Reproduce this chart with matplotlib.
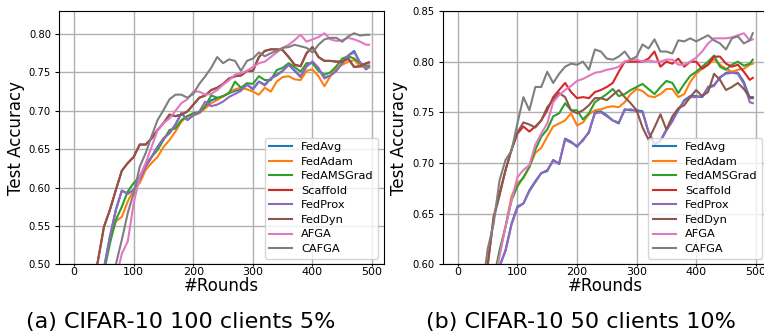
import matplotlib
matplotlib.use("Agg")
import matplotlib.pyplot as plt

rounds = list(range(0, 491, 10)) + [495]
labels = ["FedAvg", "FedAdam", "FedAMSGrad", "Scaffold", "FedProx", "FedDyn", "AFGA", "CAFGA"]

# (a) CIFAR-10, 100 clients, 5%
a_fedavg = [0.20, 0.27, 0.34, 0.41, 0.46, 0.495, 0.536, 0.571, 0.596, 0.592, 0.597, 0.610, 0.627, 0.640,
            0.653, 0.664, 0.671, 0.682, 0.697, 0.688, 0.694, 0.697, 0.705, 0.714, 0.716, 0.719, 0.723,
            0.726, 0.728, 0.734, 0.728, 0.738, 0.734, 0.742, 0.747, 0.752, 0.760, 0.752, 0.744, 0.758,
            0.764, 0.755, 0.743, 0.746, 0.752, 0.763, 0.772, 0.778, 0.762, 0.754, 0.757]
a_fedadam = [0.20, 0.27, 0.34, 0.41, 0.46, 0.492, 0.532, 0.556, 0.562, 0.582, 0.597, 0.606, 0.623, 0.632,
             0.640, 0.653, 0.662, 0.673, 0.686, 0.693, 0.695, 0.697, 0.703, 0.710, 0.714, 0.719, 0.724,
             0.728, 0.730, 0.728, 0.725, 0.721, 0.730, 0.725, 0.738, 0.744, 0.745, 0.741, 0.740, 0.752,
             0.754, 0.745, 0.732, 0.745, 0.755, 0.760, 0.764, 0.766, 0.758, 0.756, 0.756]
a_fedams = [0.20, 0.28, 0.36, 0.42, 0.46, 0.49, 0.527, 0.558, 0.575, 0.595, 0.606, 0.614, 0.630, 0.640,
            0.649, 0.662, 0.675, 0.677, 0.688, 0.693, 0.697, 0.698, 0.706, 0.720, 0.717, 0.719, 0.723,
            0.738, 0.730, 0.736, 0.735, 0.745, 0.740, 0.740, 0.753, 0.756, 0.762, 0.757, 0.751, 0.762,
            0.762, 0.752, 0.747, 0.750, 0.758, 0.768, 0.771, 0.768, 0.762, 0.759, 0.759]
a_feddyn = [0.30, 0.36, 0.42, 0.47, 0.505, 0.549, 0.571, 0.597, 0.622, 0.632, 0.640, 0.656, 0.656, 0.664,
            0.675, 0.684, 0.695, 0.693, 0.695, 0.699, 0.708, 0.717, 0.720, 0.727, 0.730, 0.735, 0.742,
            0.745, 0.746, 0.752, 0.752, 0.770, 0.778, 0.780, 0.780, 0.779, 0.770, 0.760, 0.758, 0.775,
            0.783, 0.770, 0.765, 0.765, 0.764, 0.764, 0.768, 0.757, 0.758, 0.762, 0.763]
a_scaffold = a_feddyn  # hidden under FedDyn in the figure
a_fedprox = [0.20, 0.27, 0.34, 0.41, 0.46, 0.495, 0.536, 0.571, 0.596, 0.592, 0.597, 0.610, 0.627, 0.640,
             0.653, 0.664, 0.671, 0.682, 0.697, 0.688, 0.694, 0.699, 0.712, 0.706, 0.708, 0.712, 0.718,
             0.722, 0.726, 0.734, 0.729, 0.738, 0.733, 0.742, 0.746, 0.752, 0.760, 0.753, 0.745, 0.758,
             0.764, 0.756, 0.742, 0.746, 0.752, 0.762, 0.772, 0.776, 0.763, 0.756, 0.758]
a_afga = [0.05, 0.12, 0.20, 0.28, 0.35, 0.40, 0.44, 0.48, 0.514, 0.530, 0.580, 0.614, 0.632, 0.653, 0.675,
          0.684, 0.690, 0.700, 0.710, 0.715, 0.725, 0.725, 0.721, 0.722, 0.727, 0.734, 0.740, 0.747,
          0.749, 0.752, 0.757, 0.762, 0.764, 0.770, 0.776, 0.782, 0.786, 0.792, 0.799, 0.790, 0.793,
          0.796, 0.801, 0.793, 0.791, 0.792, 0.795, 0.793, 0.790, 0.786, 0.786]
a_cafga = [0.10, 0.18, 0.26, 0.33, 0.39, 0.43, 0.47, 0.50, 0.532, 0.567, 0.593, 0.627, 0.645, 0.667, 0.688,
           0.701, 0.715, 0.721, 0.721, 0.717, 0.722, 0.735, 0.745, 0.756, 0.770, 0.762, 0.767, 0.765,
           0.752, 0.765, 0.768, 0.776, 0.771, 0.775, 0.778, 0.782, 0.783, 0.786, 0.784, 0.782, 0.776,
           0.786, 0.793, 0.795, 0.795, 0.790, 0.797, 0.801, 0.798, 0.799, 0.799]

# (b) CIFAR-10, 50 clients, 10%
b_fedavg = [0.15, 0.23, 0.31, 0.39, 0.46, 0.52, 0.565, 0.598, 0.614, 0.640, 0.657, 0.660, 0.673, 0.682,
            0.690, 0.692, 0.703, 0.699, 0.724, 0.721, 0.716, 0.723, 0.730, 0.750, 0.751, 0.747, 0.742,
            0.739, 0.753, 0.752, 0.752, 0.751, 0.730, 0.718, 0.722, 0.733, 0.742, 0.752, 0.762, 0.766,
            0.766, 0.765, 0.775, 0.777, 0.784, 0.789, 0.790, 0.789, 0.780, 0.764, 0.764]
b_fedadam = [0.20, 0.28, 0.36, 0.43, 0.49, 0.54, 0.58, 0.611, 0.637, 0.667, 0.680, 0.685, 0.696, 0.710,
             0.715, 0.726, 0.736, 0.739, 0.742, 0.749, 0.737, 0.740, 0.748, 0.752, 0.753, 0.755, 0.756,
             0.755, 0.760, 0.768, 0.773, 0.771, 0.766, 0.765, 0.768, 0.773, 0.773, 0.765, 0.768, 0.780,
             0.788, 0.793, 0.797, 0.802, 0.797, 0.793, 0.790, 0.792, 0.793, 0.797, 0.798]
b_fedams = [0.20, 0.28, 0.36, 0.43, 0.49, 0.54, 0.585, 0.614, 0.637, 0.663, 0.677, 0.686, 0.696, 0.713,
            0.726, 0.733, 0.746, 0.749, 0.759, 0.752, 0.752, 0.743, 0.749, 0.760, 0.764, 0.768, 0.773,
            0.766, 0.768, 0.772, 0.775, 0.778, 0.773, 0.768, 0.775, 0.781, 0.779, 0.769, 0.778, 0.786,
            0.790, 0.795, 0.800, 0.806, 0.795, 0.792, 0.797, 0.800, 0.796, 0.798, 0.802]
b_scaffold = [0.30, 0.38, 0.45, 0.51, 0.56, 0.598, 0.647, 0.670, 0.693, 0.713, 0.729, 0.736, 0.731, 0.736,
              0.742, 0.752, 0.765, 0.772, 0.779, 0.770, 0.764, 0.765, 0.764, 0.770, 0.772, 0.775, 0.779,
              0.790, 0.800, 0.800, 0.800, 0.800, 0.803, 0.810, 0.795, 0.800, 0.798, 0.803, 0.795, 0.800,
              0.800, 0.793, 0.797, 0.805, 0.805, 0.798, 0.795, 0.797, 0.790, 0.782, 0.784]
b_fedprox = [0.15, 0.23, 0.31, 0.39, 0.46, 0.52, 0.565, 0.598, 0.613, 0.639, 0.656, 0.660, 0.672, 0.681,
             0.690, 0.693, 0.702, 0.700, 0.723, 0.720, 0.717, 0.722, 0.731, 0.749, 0.750, 0.746, 0.742,
             0.740, 0.752, 0.753, 0.751, 0.750, 0.731, 0.719, 0.721, 0.732, 0.741, 0.753, 0.761, 0.765,
             0.765, 0.766, 0.774, 0.776, 0.785, 0.788, 0.789, 0.788, 0.778, 0.760, 0.759]
b_feddyn = [0.30, 0.38, 0.45, 0.51, 0.56, 0.600, 0.645, 0.668, 0.693, 0.713, 0.730, 0.740, 0.738, 0.735,
            0.742, 0.755, 0.762, 0.769, 0.765, 0.752, 0.749, 0.752, 0.757, 0.764, 0.764, 0.762, 0.767,
            0.772, 0.765, 0.759, 0.752, 0.735, 0.723, 0.735, 0.748, 0.733, 0.746, 0.754, 0.757, 0.765,
            0.772, 0.766, 0.770, 0.788, 0.782, 0.772, 0.775, 0.779, 0.773, 0.765, 0.765]
b_afga = [0.20, 0.28, 0.36, 0.43, 0.49, 0.54, 0.58, 0.608, 0.637, 0.663, 0.686, 0.693, 0.698, 0.718, 0.729,
          0.739, 0.760, 0.767, 0.772, 0.776, 0.781, 0.783, 0.786, 0.789, 0.790, 0.792, 0.793, 0.795,
          0.800, 0.802, 0.802, 0.800, 0.801, 0.800, 0.800, 0.802, 0.802, 0.797, 0.797, 0.800, 0.804,
          0.810, 0.818, 0.823, 0.823, 0.823, 0.824, 0.826, 0.828, 0.821, 0.822]
b_cafga = [0.30, 0.38, 0.45, 0.52, 0.57, 0.615, 0.640, 0.683, 0.703, 0.712, 0.739, 0.765, 0.752, 0.775,
           0.775, 0.790, 0.779, 0.788, 0.795, 0.798, 0.797, 0.800, 0.792, 0.812, 0.810, 0.803, 0.802,
           0.805, 0.810, 0.802, 0.805, 0.817, 0.813, 0.822, 0.810, 0.810, 0.808, 0.821, 0.820, 0.823,
           0.820, 0.823, 0.826, 0.821, 0.818, 0.812, 0.823, 0.825, 0.818, 0.821, 0.828]

series_a = [a_fedavg, a_fedadam, a_fedams, a_scaffold, a_fedprox, a_feddyn, a_afga, a_cafga]
series_b = [b_fedavg, b_fedadam, b_fedams, b_scaffold, b_fedprox, b_feddyn, b_afga, b_cafga]

fig = plt.figure(figsize=(7.64, 3.33), dpi=100)
ax1 = fig.add_axes([0.0776, 0.2063, 0.425, 0.7607])
ax2 = fig.add_axes([0.5798, 0.2063, 0.425, 0.7607])

for ax, series, ylim, yticks in [
    (ax1, series_a, (0.5, 0.83), [0.50, 0.55, 0.60, 0.65, 0.70, 0.75, 0.80]),
    (ax2, series_b, (0.6, 0.85), [0.60, 0.65, 0.70, 0.75, 0.80, 0.85]),
]:
    for ys, lab in zip(series, labels):
        ax.plot(rounds, ys, label=lab, linewidth=1.5)
    ax.set_xlim(-25, 520)
    ax.set_ylim(*ylim)
    ax.set_xticks([0, 100, 200, 300, 400, 500])
    ax.set_yticks(yticks)
    ax.yaxis.set_major_formatter(matplotlib.ticker.FormatStrFormatter("%.2f"))
    ax.tick_params(axis="y", labelsize=7.2, length=3, pad=3)
    ax.tick_params(axis="x", labelsize=8, length=1.5, pad=0.8)
    ax.grid(True, color="#b0b0b0", linewidth=1)
    ax.set_xlabel("#Rounds", fontsize=12, labelpad=0)
    ax.set_ylabel("Test Accuracy", fontsize=12, labelpad=3)
    ax.legend(loc="lower right", fontsize=8.2, labelspacing=0.4)

fig.text(0.236, 0.033, "(a) CIFAR-10 100 clients 5%", fontsize=16, ha="center", va="center")
fig.text(0.760, 0.033, "(b) CIFAR-10 50 clients 10%", fontsize=16, ha="center", va="center")

fig.savefig("out.png", dpi=100)
